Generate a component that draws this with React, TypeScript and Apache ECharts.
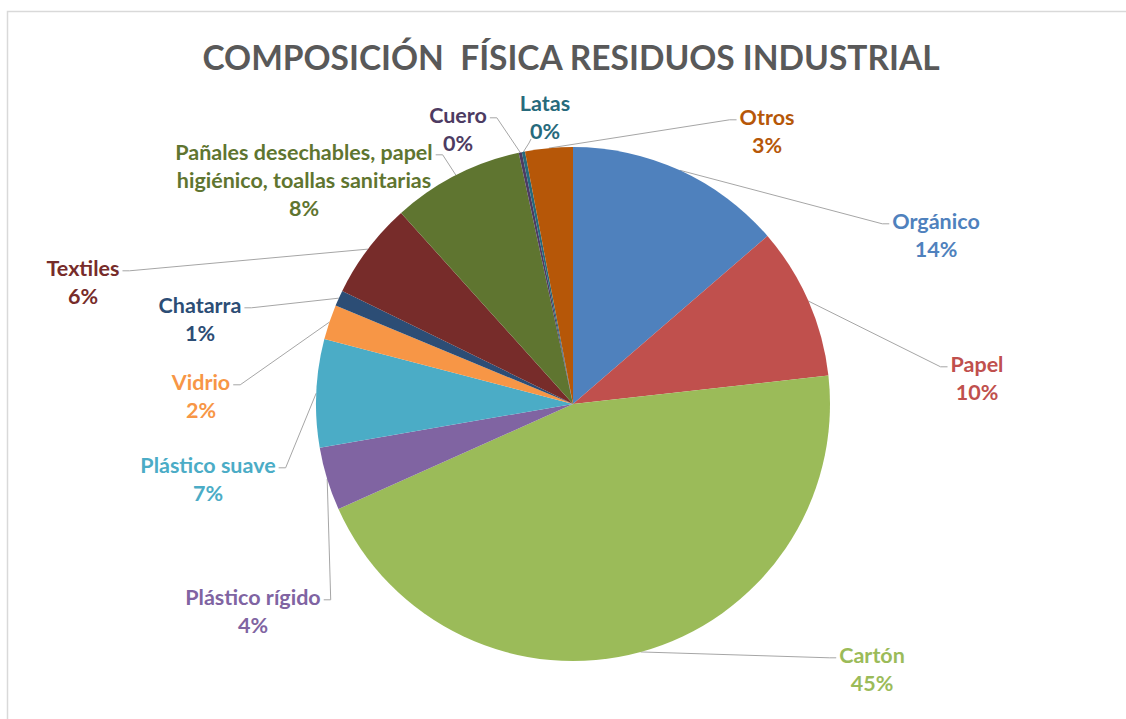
import React, { useEffect, useRef } from "react";
import * as echarts from "echarts";

const TITLE = "COMPOSICIÓN  FÍSICA RESIDUOS INDUSTRIAL";
const categories = [
  "Orgánico",
  "Papel",
  "Cartón",
  "Plástico rígido",
  "Plástico suave",
  "Vidrio",
  "Chatarra",
  "Textiles",
  "Pañales desechables, papel\nhigiénico, toallas sanitarias",
  "Cuero",
  "Latas",
  "Otros",
];
const values = [13.7, 9.6, 45.2, 4.0, 6.8, 2.2, 1.0, 6.1, 8.3, 0.2, 0.2, 3.0];
const colors = [
  "#4F81BD", "#C0504D", "#9BBB59", "#8064A2", "#4BACC6", "#F79646",
  "#2C4D75", "#772C2A", "#5F7530", "#4D3B62", "#276A7C", "#B65708",
];
// label block centres and leader-line attachment side (layout only)
const labelPos: [number, number][] = [
  [936, 235], [977, 378], [872, 669], [253, 611], [208, 479], [201, 396],
  [200, 319], [83, 282], [304, 180], [458, 129], [545, 117], [767, 131],
];
const labelSide = ["L", "L", "L", "R", "R", "R", "R", "R", "R", "R", "B", "L"];

const LINE_H = 28;

export default function App() {
  const ref = useRef<HTMLDivElement>(null);
  useEffect(() => {
    document.body.style.margin = "0";
    const chart = echarts.init(ref.current!, null, { renderer: "svg" });
    chart.setOption({
      animation: false,
      backgroundColor: "#ffffff",
      title: {
        text: TITLE,
        left: 566,
        top: 52,
        textAlign: "center",
        textVerticalAlign: "middle",
        textStyle: {
          fontFamily: "Lato",
          fontWeight: "bold",
          fontSize: 33.5,
          color: "#595959",
        },
      },
      graphic: [
        {
          type: "polyline",
          shape: { points: [[7.5, 719], [7.5, 11.5], [1126, 11.5]] },
          style: { stroke: "#D9D9D9", lineWidth: 1.5, fill: null },
          silent: true,
        },
      ],
      series: [
        {
          type: "pie",
          center: [573, 404],
          radius: 257,
          startAngle: 90,
          clockwise: true,
          avoidLabelOverlap: false,
          minShowLabelAngle: 0,
          itemStyle: { borderColor: "#ffffff", borderWidth: 0 },
          label: {
            show: true,
            formatter: (p: any) => `${p.name}\n${Math.round(p.percent)}%`,
            fontFamily: "Lato",
            fontWeight: "bold",
            fontSize: 21.5,
            lineHeight: LINE_H,
            align: "center",
            color: "inherit",
          },
          labelLine: {
            show: true,
            lineStyle: { color: "#A6A6A6", width: 1 },
          },
          labelLayout: (params: any) => {
            const i = params.dataIndex;
            const [cx, cy] = labelPos[i];
            const w = params.labelRect.width;
            const h = params.labelRect.height;
            const side = labelSide[i];
            const firstY = cy - h / 2 + LINE_H * 0.6;
            let end: number[];
            let knee: number[];
            if (side === "L") {
              end = [cx - w / 2 - 3, firstY];
              knee = [end[0] - 7, end[1]];
            } else if (side === "R") {
              end = [cx + w / 2 + 3, firstY];
              knee = [end[0] + 7, end[1]];
            } else {
              end = [cx - 14, cy + h / 2 - 6];
              knee = [end[0] - 2, end[1] + 4];
            }
            const start =
              params.labelLinePoints && params.labelLinePoints[0]
                ? params.labelLinePoints[0]
                : knee;
            return {
              x: cx,
              y: cy,
              align: "center",
              verticalAlign: "middle",
              labelLinePoints: [start, knee, end],
            };
          },
          data: categories.map((name, i) => ({
            name,
            value: values[i],
            itemStyle: { color: colors[i] },
            label: { color: colors[i] },
          })),
        },
      ],
    });
    return () => chart.dispose();
  }, []);
  return <div ref={ref} style={{ width: 1126, height: 719 }} />;
}
